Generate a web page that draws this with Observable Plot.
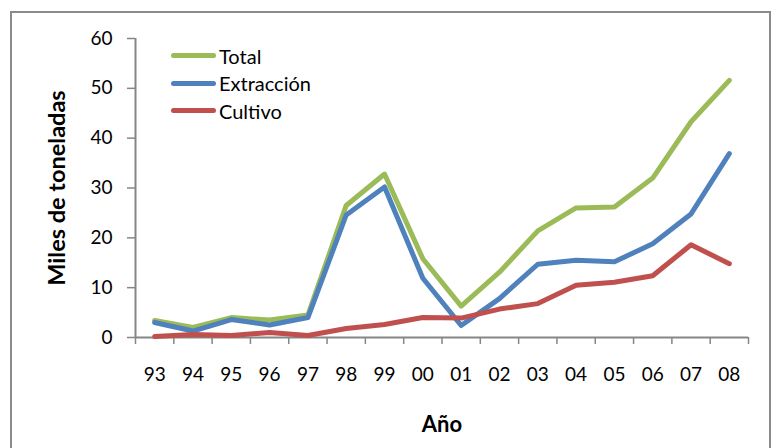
<!DOCTYPE html>
<html>
<head>
<meta charset="utf-8">
<script src="https://cdn.jsdelivr.net/npm/d3@7"></script>
<script src="https://cdn.jsdelivr.net/npm/@observablehq/plot@0.6"></script>
<style>
  body { margin: 0; background: #fff; }
  #wrap { position: relative; width: 776px; height: 448px; overflow: hidden; font-family: Lato, "Open Sans", sans-serif; }
  #frame { position: absolute; left: 10px; top: 11px; width: 761px; height: 470px; border: 2px solid #8a8a8a; box-sizing: border-box; pointer-events: none; }
  #legend { position: absolute; left: 171px; top: 42px; font-size: 20px; color: #000; }
  .item { display: flex; align-items: center; height: 27.5px; }
  .sw { width: 45px; height: 5px; border-radius: 3px; margin-right: 3px; }
  #chart { position: absolute; left: 0; top: 0; }
</style>
</head>
<body>
<div id="wrap">
  <div id="frame"></div>
  <div id="chart"></div>
  <div id="legend"></div>
</div>
<script>
const years = ["93","94","95","96","97","98","99","00","01","02","03","04","05","06","07","08"];
const total      = [3.4, 2.0, 4.0, 3.5, 4.5, 26.5, 32.8, 15.8, 6.3, 13.1, 21.4, 26.0, 26.2, 32.0, 43.3, 51.6];
const extraccion = [3.0, 1.3, 3.6, 2.5, 4.0, 24.6, 30.2, 11.9, 2.4, 7.8, 14.7, 15.5, 15.2, 18.8, 24.8, 36.9];
const cultivo    = [0.2, 0.6, 0.4, 1.0, 0.4, 1.8, 2.6, 4.0, 3.9, 5.7, 6.8, 10.5, 11.1, 12.4, 18.6, 14.8];
const seriesNames = ["Total", "Extracción", "Cultivo"];
const seriesColors = ["#9BBB59", "#4F81BD", "#C0504D"];
const yTicks = [0, 10, 20, 30, 40, 50, 60];
const yTitle = "Miles de toneladas";
const xTitle = "Año";

const seriesValues = [total, extraccion, cultivo];
const rows = [];
seriesNames.forEach((name, s) => {
  seriesValues[s].forEach((v, i) => rows.push({serie: name, i, v}));
});
const boundaries = d3.range(years.length + 1).map(k => k - 0.5);
const axisGray = "#868686";

const chart = Plot.plot({
  width: 776,
  height: 448,
  marginLeft: 135,
  marginRight: 28,
  marginTop: 38,
  marginBottom: 111,
  style: { fontFamily: "Lato, 'Open Sans', sans-serif", fontSize: "19px", color: "#000", background: "transparent", overflow: "visible" },
  x: { domain: [-0.5, years.length - 0.5] },
  y: { domain: [0, 60] },
  color: { domain: seriesNames, range: seriesColors },
  marks: [
    Plot.axisY({ ticks: yTicks, tickSize: 8, tickPadding: 15, stroke: axisGray, strokeWidth: 1.5, fill: "#000", label: null }),
    Plot.axisX({ ticks: boundaries, tickSize: 7, tickFormat: () => "", stroke: axisGray, strokeWidth: 1.5, label: null }),
    Plot.axisX({ ticks: d3.range(years.length), tickSize: 0, tickPadding: 30, tickFormat: i => years[i], fill: "#000", label: null }),
    Plot.ruleY([0], { stroke: axisGray, strokeWidth: 2 }),
    Plot.ruleX([-0.5], { stroke: axisGray, strokeWidth: 2 }),
    Plot.line(rows, { x: "i", y: "v", z: "serie", stroke: "serie", strokeWidth: 5, strokeLinejoin: "round", strokeLinecap: "round" }),
    Plot.text([yTitle], { frameAnchor: "left", dx: -78, rotate: -90, textAnchor: "middle", lineAnchor: "middle", fontWeight: "bold", fontSize: 23.5, fill: "#000" }),
    Plot.text([xTitle], { frameAnchor: "bottom", dy: 87, textAnchor: "middle", lineAnchor: "middle", fontWeight: "bold", fontSize: 22, fill: "#000" })
  ]
});
document.getElementById("chart").appendChild(chart);

const legend = document.getElementById("legend");
seriesNames.forEach((name, s) => {
  const item = document.createElement("div");
  item.className = "item";
  const sw = document.createElement("span");
  sw.className = "sw";
  sw.style.background = seriesColors[s];
  const label = document.createElement("span");
  label.textContent = name;
  item.appendChild(sw);
  item.appendChild(label);
  legend.appendChild(item);
});
</script>
</body>
</html>
